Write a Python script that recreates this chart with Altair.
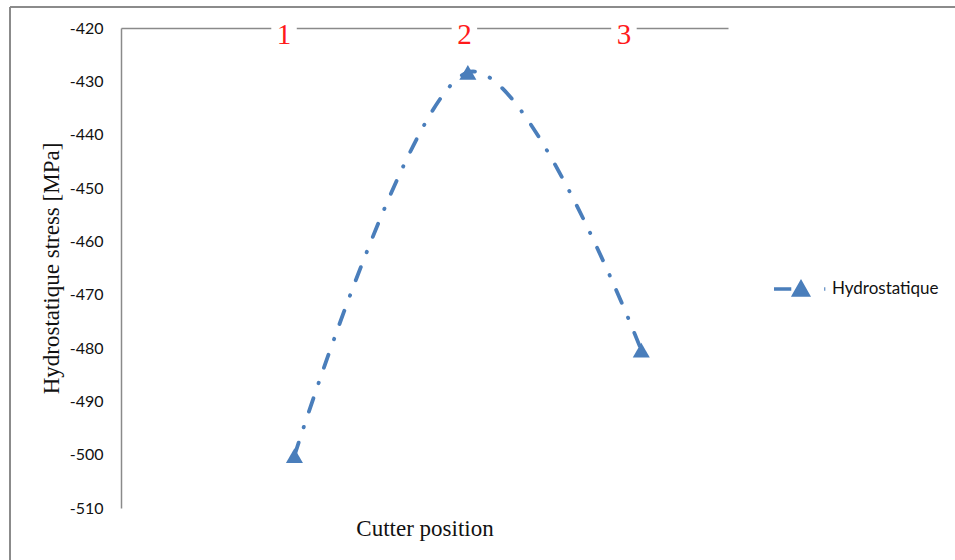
import altair as alt
import pandas as pd

# Hydrostatic stress at each cutter position
positions = [1, 2, 3]
stress = [-500.2, -428.3, -480.4]
series = ["Hydrostatique", "Hydrostatique", "Hydrostatique"]

# Red position markers written along the top axis
marker_pos = [0.94, 1.98, 2.90]
marker_text = ["1", "2", "3"]

y_ticks = [-510, -500, -490, -480, -470, -460, -450, -440, -430, -420]

BLUE = "#4a7ebb"
GRAY = "#8a8a8a"
SERIF = "Liberation Serif"
SANS = "Lato"

data = pd.DataFrame({"position": positions, "stress": stress, "series": series})
markers = pd.DataFrame({"pos": marker_pos, "text": marker_text})

x_scale = alt.Scale(domain=[0, 3.5], nice=False, zero=False)
y_scale = alt.Scale(domain=[-510, -420], nice=False, zero=False)

x_axis = alt.Axis(
    orient="top", labels=False, ticks=False, grid=False,
    domainColor=GRAY, domainWidth=1.5,
    title="Cutter position", titleFont=SERIF, titleFontSize=23,
    titleFontWeight="normal", titleColor="#111111",
    titleX=303.5, titleY=507, titleBaseline="alphabetic", titleAlign="center",
)
y_axis = alt.Axis(
    values=y_ticks, ticks=False, grid=False,
    domainColor=GRAY, domainWidth=1.5,
    labelExpr="toString(datum.value)",
    labelFont=SANS, labelFontSize=16, labelColor="#111111", labelPadding=18,
    title="Hydrostatique stress [MPa]", titleFont=SERIF, titleFontSize=23,
    titleFontWeight="normal", titleColor="#111111",
    titleX=-70, titleY=240, titleAngle=-90, titleAlign="center",
    titleBaseline="middle",
)

base = alt.Chart(data)

curve = base.mark_line(
    interpolate="cardinal", strokeWidth=3.8, strokeCap="round",
    strokeDash=[14, 16, 0.5, 16], color=BLUE,
).encode(
    x=alt.X("position:Q", scale=x_scale, axis=x_axis),
    y=alt.Y("stress:Q", scale=y_scale, axis=y_axis),
)

legend_symbol = (
    "M-1,0H-0.36"
    "M-0.26,0.22L0,-0.24L0.26,0.22Z"
    "M0.86,0H0.9"
)

points = base.mark_point(shape="triangle-up", filled=True, size=290, opacity=1).encode(
    x=alt.X("position:Q", scale=x_scale),
    y=alt.Y("stress:Q", scale=y_scale),
    color=alt.Color(
        "series:N",
        scale=alt.Scale(range=[BLUE]),
        legend=alt.Legend(
            title=None, orient="none", legendX=651, legendY=232,
            symbolType=legend_symbol, symbolSize=2916,
            symbolFillColor=BLUE, symbolStrokeColor=BLUE, symbolStrokeWidth=3.5,
            labelFont=SANS, labelFontSize=17, labelColor="#111111", labelOffset=2,
        ),
    ),
)

gaps = alt.Chart(markers).mark_square(size=650, color="white", filled=True, opacity=1).encode(
    x=alt.X("pos:Q", scale=x_scale),
    y=alt.datum(-420, scale=y_scale),
)

labels = alt.Chart(markers).mark_text(
    font=SERIF, fontSize=29, color="#ff1a1a", baseline="middle", dy=7,
).encode(
    x=alt.X("pos:Q", scale=x_scale),
    y=alt.datum(-420, scale=y_scale),
    text="text:N",
)

# Outer chart frame (top and left edges)
frame_top = alt.Chart(markers).mark_rule(color=GRAY, strokeWidth=1.5).encode(
    x=alt.value(-111), x2=alt.value(840), y=alt.value(-21)
)
frame_left = alt.Chart(markers).mark_rule(color=GRAY, strokeWidth=1.5).encode(
    x=alt.value(-111), y=alt.value(-21), y2=alt.value(540)
)

chart = alt.layer(frame_top, frame_left, curve, points, gaps, labels).properties(
    width=607, height=480,
    autosize=alt.AutoSizeParams(type="none"),
    padding={"left": 121, "top": 28, "right": 227, "bottom": 52},
    background="white",
).configure_view(stroke=None)

chart.save("out.html", embed_options={"renderer": "svg", "actions": False})
